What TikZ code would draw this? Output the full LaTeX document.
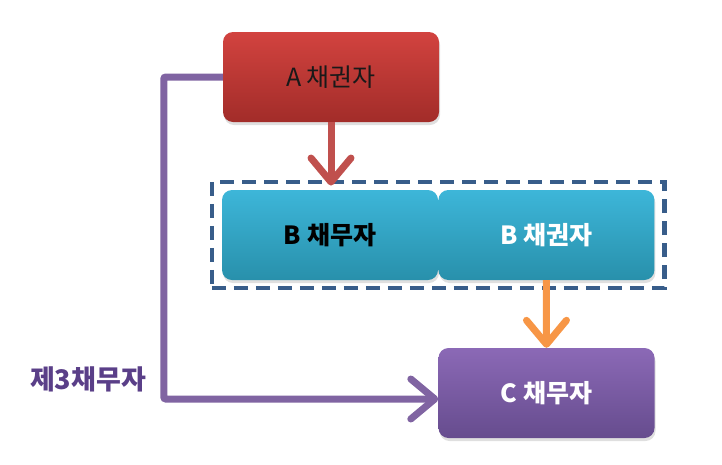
\documentclass[tikz,border=0pt]{standalone}
\usepackage{fontspec}
\newfontfamily\krfont{Noto Sans CJK KR}
\usepackage{xcolor}
\usetikzlibrary{positioning,fit,arrows.meta,shadows}

\definecolor{redtop}{HTML}{D2433F}
\definecolor{redbot}{HTML}{A22C29}
\definecolor{redline}{HTML}{C0504D}
\definecolor{cyantop}{HTML}{3DB6D9}
\definecolor{cyanbot}{HTML}{2890AB}
\definecolor{purptop}{HTML}{8B69B6}
\definecolor{purpbot}{HTML}{664C8E}
\definecolor{purpline}{HTML}{8064A2}
\definecolor{purptext}{HTML}{5A3F88}
\definecolor{orangeline}{HTML}{F79646}
\definecolor{groupblue}{HTML}{385D8A}

\begin{document}
\begin{tikzpicture}[
    x=1pt, y=-1pt,
    party/.style={rectangle, rounded corners=10pt, minimum width=216pt, minimum height=90pt, inner sep=0pt,
        font=\krfont\fontsize{25}{28}\selectfont,
        drop shadow={opacity=0.25, shadow xshift=1pt, shadow yshift=-3pt}},
    boldparty/.style={party, font=\krfont\bfseries\fontsize{25}{28}\selectfont},
    redparty/.style={party, top color=redtop, bottom color=redbot, text=black!90},
    cyanparty/.style={boldparty, top color=cyantop, bottom color=cyanbot},
    purpparty/.style={boldparty, top color=purptop, bottom color=purpbot, text=white},
    group/.style={draw=groupblue, line width=4.5pt, dash pattern=on 14pt off 8pt, inner xsep=10pt, inner ysep=8pt},
    link/.style={line width=7pt, -{Straight Barb[length=24pt, width=40pt, round]}}
]
\useasboundingbox (0,0) rectangle (722,464);

% Parties
\node[redparty] (acred) at (331,77) {A 채권자};
\node[cyanparty, text=black] (bdebt) at (330,235) {B 채무자};
\node[cyanparty, text=white, right=0pt of bdebt] (bcred) {B 채권자};
\node[purpparty] (cdebt) at (546.5,393) {C 채무자};

% Group of B
\node[group, fit=(bdebt)(bcred)] (bgroup) {};

% Label
\node[text=purptext, font=\krfont\bfseries\fontsize{27}{30}\selectfont] (thirdlabel) at (88,379) {제3채무자};

% Connections
\draw[link, redline] (acred.south) -- ([yshift=-6pt]acred.south |- bgroup.north);
\draw[link, orangeline] (bcred.south) -- (cdebt.north);
\draw[link, purpline, rounded corners=2pt] (acred.west) -- ++(-59,0) |- ([yshift=-6pt]cdebt.west);

\end{tikzpicture}
\end{document}
